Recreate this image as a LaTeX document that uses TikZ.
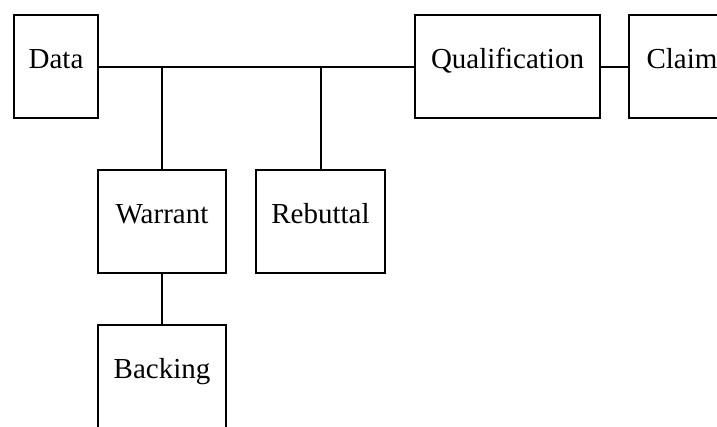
\documentclass[tikz,border=0pt]{standalone}
\usepackage{fontspec}
\setmainfont{Liberation Serif}
\begin{document}
\begin{tikzpicture}[x=1pt,y=-1pt,
  box/.style={draw, line width=2pt, rectangle, anchor=north west, inner xsep=0pt, inner ysep=0pt,
    text height=53pt, text depth=50pt, font=\fontsize{29}{34}\selectfont},
  link/.style={line width=2pt}]
\useasboundingbox (0,0) rectangle (717,426);
\clip (0,0) rectangle (717,426);
\node[box, minimum width=84pt] (data) at (13,14) {Data};
\node[box, minimum width=185pt] (qual) at (414,14) {Qualification};
\node[box, minimum width=106pt] (claim) at (628,14) {Claim};
\node[box, minimum width=128pt] (warrant) at (97,169) {Warrant};
\node[box, minimum width=129pt] (rebuttal) at (255,169) {Rebuttal};
\node[box, minimum width=128pt] (backing) at (97,324) {Backing};
\draw[link] (data.east) -- (qual.west);
\draw[link] (qual.east) -- (claim.west);
\draw[link] (warrant.north) -- (warrant.north |- data.east);
\draw[link] (rebuttal.north) -- (rebuttal.north |- data.east);
\draw[link] (warrant.south) -- (backing.north);
\end{tikzpicture}
\end{document}
